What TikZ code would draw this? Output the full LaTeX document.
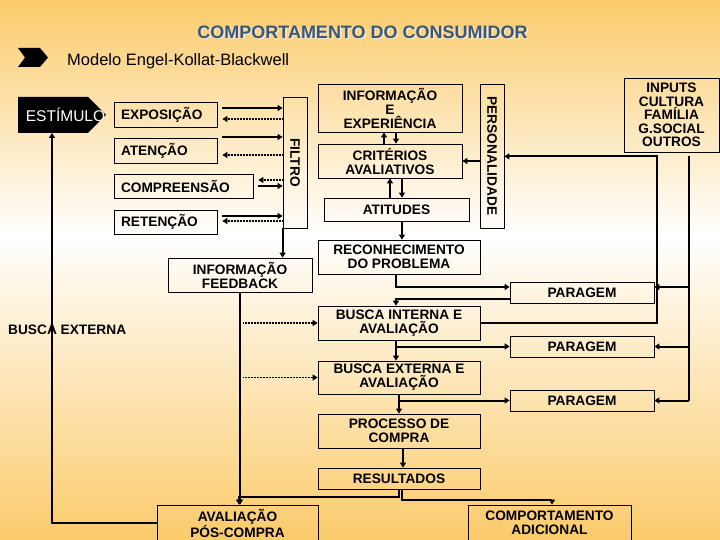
\documentclass[tikz,border=0pt]{standalone}
\usepackage{fontspec}
\setmainfont{Liberation Sans}
\usetikzlibrary{arrows.meta, calc}
\definecolor{bgorange}{RGB}{251,203,107}
\definecolor{titleblue}{RGB}{58,88,118}
\definecolor{shadowgray}{RGB}{238,232,220}
\newcommand{\boxfont}{\fontsize{13.7}{14}\selectfont\bfseries}

\begin{document}
\begin{tikzpicture}[
                x=1pt, y=-1pt,
                block/.style 2 args={draw, line width=0.8pt, inner sep=0pt, align=center, font=\boxfont, minimum width=#1pt, minimum height=#2pt},
                lblock/.style 2 args={draw, line width=0.8pt, inner xsep=7pt, inner ysep=0pt, align=left, font=\boxfont, text width=#1pt, minimum height=#2pt},
                arr/.style={line width=2pt, -{Triangle[length=5pt, width=6pt]}},
                line/.style={line width=2pt},
                dotarr/.style={line width=1.7pt, dash pattern=on 0.9pt off 0.6pt, -{Triangle[length=5pt, width=6pt]}}
            ]
                \useasboundingbox (0,0) rectangle (720,540);
                \clip (0,0) rectangle (720,540);
                % Background
                \shade[top color=bgorange, bottom color=white] (0,0) rectangle (720,236);
                \shade[top color=white, bottom color=bgorange] (0,235) rectangle (720,540);

                % Title
                \node[font=\fontsize{18}{18}\selectfont\bfseries, text=shadowgray] (titleshadow) at (364,33.5) {COMPORTAMENTO DO CONSUMIDOR};
                \node[font=\fontsize{18}{18}\selectfont\bfseries, text=titleblue] (title) at (362.5,32) {COMPORTAMENTO DO CONSUMIDOR};
                \fill (18,48) -- (40,48) -- (48,57.5) -- (40,67) -- (18,67) -- (25,57.5) -- cycle;
                \node[anchor=west, inner sep=0pt, font=\fontsize{16.5}{17}\selectfont] (modelo) at (67,61) {Modelo Engel-Kollat-Blackwell};

                % Stimulus
                \fill (18,97) -- (88,97) -- (106,115) -- (88,133) -- (18,133) -- cycle;
                \coordinate (estimulo) at (52,133);
                \node[text=white, inner sep=0pt, font=\fontsize{15.5}{16}\selectfont] (estlabel) at (65.5,115) {ESTÍMULO};

                % Left column
                \node[lblock={89}{25}] (expo) at (165.5,114.5) {EXPOSIÇÃO};
                \node[lblock={89}{25}] (aten) at (165.5,150.5) {ATENÇÃO};
                \node[lblock={125}{24}] (compr) at (183.5,186) {COMPREENSÃO};
                \node[lblock={89}{24}] (reten) at (165.5,222) {RETENÇÃO};
                \node[block={24}{131}] (filtro) at (295,162.5) {\rotatebox{-90}{FILTRO}};
                \node[block={144}{34}] (feedback) at (240,275) {INFORMAÇÃO\\FEEDBACK};
                \node[block={161}{36}] (avalia) at (237.5,523) {AVALIAÇÃO\\PÓS-COMPRA};
                \node[anchor=west, inner sep=0pt, font=\boxfont] (buscalbl) at (8,330) {BUSCA EXTERNA};

                % Right column
                \node[block={144}{48}] (infoexp) at (390,108) {INFORMAÇÃO\\E\\EXPERIÊNCIA};
                \node[block={144}{34}] (criterios) at (390,161) {CRITÉRIOS\\AVALIATIVOS};
                \node[block={145}{23}] (atitudes) at (396.5,209.5) {ATITUDES};
                \node[block={24}{144}] (person) at (492,156) {\rotatebox{-90}{PERSONALIDADE}};
                \node[block={95}{74}, font=\fontsize{13.7}{13.4}\selectfont\bfseries] (inputs) at (671.5,115) {INPUTS\\CULTURA\\FAMÍLIA\\G.SOCIAL\\OUTROS};
                \node[block={162}{34}] (reconh) at (399,257) {RECONHECIMENTO\\DO PROBLEMA};
                \node[block={144}{21}] (parag1) at (582,292.5) {PARAGEM};
                \node[block={162}{34}] (buscaint) at (399,323) {BUSCA INTERNA E\\AVALIAÇÃO};
                \node[block={144}{21}] (parag2) at (582,346.5) {PARAGEM};
                \node[block={162}{33}] (buscaext) at (399,377.5) {BUSCA EXTERNA E\\AVALIAÇÃO};
                \node[block={144}{21}] (parag3) at (582,400.5) {PARAGEM};
                \node[block={162}{34}] (processo) at (399,431) {PROCESSO DE\\COMPRA};
                \node[block={162}{21}] (result) at (399,478.5) {RESULTADOS};
                \node[block={163}{36}] (comport) at (549.5,523) {COMPORTAMENTO\\ADICIONAL};
                \coordinate (spine) at ([xshift=17.5pt, yshift=-4pt]inputs.south);
                \coordinate (knee) at ([xshift=-14.5pt, yshift=-4pt]inputs.south);

                % Edges to the filter
                \draw[arr] ([xshift=5pt, yshift=6.5pt]expo.east) -- ([yshift=6.5pt]expo.east -| filtro.west);
                \draw[dotarr] ([yshift=-4.5pt]expo.east -| filtro.west) -- ([xshift=5pt, yshift=-4.5pt]expo.east);
                \draw[arr] ([xshift=5pt, yshift=13.5pt]aten.east) -- ([yshift=13.5pt]aten.east -| filtro.west);
                \draw[dotarr] ([yshift=-4.5pt]aten.east -| filtro.west) -- ([xshift=5pt, yshift=-4.5pt]aten.east);
                \draw[dotarr] ([yshift=6pt]compr.east -| filtro.west) -- ([xshift=5pt, yshift=6pt]compr.east);
                \draw[arr] ([xshift=5pt]compr.east) -- (compr.east -| filtro.west);
                \draw[arr] ([xshift=5pt, yshift=6pt]reten.east) -- ([yshift=6pt]reten.east -| filtro.west);
                \draw[dotarr] ([yshift=1pt]reten.east -| filtro.west) -- ([xshift=5pt, yshift=1pt]reten.east);

                % Feedback loop
                \draw[arr] (filtro.south west) -- (filtro.south west |- feedback.north);
                \draw[arr] (feedback.south) -- (feedback.south |- avalia.north);
                \draw[dotarr] ([xshift=3pt]feedback.south |- buscaint.west) -- (buscaint.west);
                \draw[dotarr] ([xshift=3pt]feedback.south |- buscaext.west) -- (buscaext.west);
                \draw[arr] (avalia.west) -| (estimulo);

                % Right column edges
                \draw[arr] ([xshift=-6pt]criterios.north) -- ([xshift=-6pt]infoexp.south);
                \draw[arr] ([xshift=6pt]infoexp.south) -- ([xshift=6pt]criterios.north);
                \draw[arr] (atitudes.north -| criterios.south) -- (criterios.south);
                \draw[arr] ([xshift=12pt]criterios.south) -- ([xshift=12pt]criterios.south |- atitudes.north);
                \draw[arr] ([xshift=5.5pt]atitudes.south) -- ([xshift=5.5pt]atitudes.south |- reconh.north);
                \draw[arr] (criterios.east -| person.west) -- (criterios.east);

                % Inputs
                \draw[arr] (buscaint.east) -| (knee) -- (knee -| person.east);
                \draw[line] (spine) -- (spine |- parag3.east);
                \draw[arr] ([yshift=5.5pt]parag1.east -| spine) -- ([yshift=5.5pt]parag1.east);
                \draw[arr] (parag2.east -| spine) -- (parag2.east);
                \draw[arr] (parag3.east -| spine) -- (parag3.east);

                % Decision chain
                \draw[arr] ([xshift=-3pt]reconh.south) |- ([yshift=5.5pt]parag1.west);
                \draw[arr] ([yshift=-6.5pt]parag1.west) -| ([xshift=-3pt]buscaint.north);
                \draw[arr] ([xshift=-3pt]buscaint.south) -- ([xshift=-3pt]buscaext.north);
                \draw[arr] ([xshift=-3pt]buscaint.south |- parag2.west) -- (parag2.west);
                \draw[arr] (buscaext.south) -- (processo.north);
                \draw[arr] (buscaext.south |- parag3.west) -- (parag3.west);
                \draw[arr] ([xshift=4pt]processo.south) -- ([xshift=4pt]result.north);
                \draw[arr] (result.south) -- ++(0,8) -| ([xshift=1.5pt]avalia.north);
                \draw[arr] ([xshift=3pt]result.south) -- ++(0,11) -| ([xshift=2.5pt]comport.north);
            \end{tikzpicture}
\end{document}
